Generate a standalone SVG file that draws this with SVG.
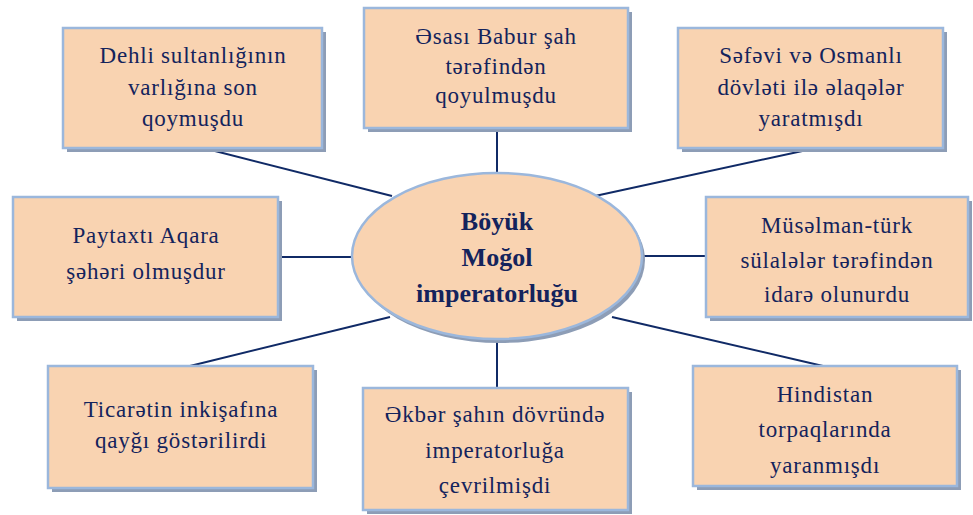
<svg xmlns="http://www.w3.org/2000/svg" width="973" height="515" viewBox="0 0 973 515">
<style>
.box{fill:#f9d3b1;stroke:#9bb7dc;stroke-width:2.5}
.sh{fill:#8d9db6}
.t{fill:#14235c;text-anchor:middle}
.ln{stroke:#102a66;stroke-width:2;fill:none}
</style>
<rect width="973" height="515" fill="#ffffff"/>
<g id="connectors">
<line class="ln" x1="211" y1="150" x2="392" y2="196"/>
<line class="ln" x1="497" y1="129" x2="497" y2="174"/>
<line class="ln" x1="807" y1="150" x2="595" y2="196"/>
<line class="ln" x1="279" y1="257" x2="352" y2="257"/>
<line class="ln" x1="641" y1="256" x2="706" y2="256"/>
<line class="ln" x1="190" y1="366" x2="390" y2="317"/>
<line class="ln" x1="497" y1="339" x2="497" y2="388"/>
<line class="ln" x1="612" y1="317" x2="823" y2="366"/>
</g>
<g id="center">
<ellipse cx="500" cy="260" rx="145" ry="83" class="sh"/>
<ellipse cx="497" cy="256" rx="145" ry="83" class="box"/>
<text class="t" font-family="Liberation Serif" font-size="26" font-weight="bold" x="497" y="230">Böyük</text>
<text class="t" font-family="Liberation Serif" font-size="26" font-weight="bold" x="497" y="266">Moğol</text>
<text class="t" font-family="Liberation Serif" font-size="26" font-weight="bold" x="497" y="302">imperatorluğu</text>
</g>
<g id="n1">
<rect x="67" y="32" width="259" height="120" class="sh"/>
<rect x="63" y="28" width="259" height="120" class="box"/>
<text class="t" font-family="Liberation Serif, DejaVu Serif, serif" font-size="23" letter-spacing="0.8" x="193" y="63">Dehli sultanlığının</text>
<text class="t" font-family="Liberation Serif, DejaVu Serif, serif" font-size="23" letter-spacing="0.8" x="193" y="95">varlığına son</text>
<text class="t" font-family="Liberation Serif, DejaVu Serif, serif" font-size="23" letter-spacing="0.8" x="193" y="126">qoymuşdu</text>
</g>
<g id="n2">
<rect x="368" y="12" width="264" height="120" class="sh"/>
<rect x="364" y="8" width="264" height="120" class="box"/>
<text class="t" font-family="Liberation Serif, DejaVu Serif, serif" font-size="23" letter-spacing="0.8" x="496" y="44">Əsası Babur şah</text>
<text class="t" font-family="Liberation Serif, DejaVu Serif, serif" font-size="23" letter-spacing="0.8" x="496" y="74">tərəfindən</text>
<text class="t" font-family="Liberation Serif, DejaVu Serif, serif" font-size="23" letter-spacing="0.8" x="496" y="103">qoyulmuşdu</text>
</g>
<g id="n3">
<rect x="682" y="32" width="265" height="120" class="sh"/>
<rect x="678" y="28" width="265" height="120" class="box"/>
<text class="t" font-family="Liberation Serif, DejaVu Serif, serif" font-size="23" letter-spacing="0.8" x="811" y="63">Səfəvi və Osmanlı</text>
<text class="t" font-family="Liberation Serif, DejaVu Serif, serif" font-size="23" letter-spacing="0.8" x="811" y="95">dövləti ilə əlaqələr</text>
<text class="t" font-family="Liberation Serif, DejaVu Serif, serif" font-size="23" letter-spacing="0.8" x="811" y="126">yaratmışdı</text>
</g>
<g id="n4">
<rect x="17" y="201" width="265" height="120" class="sh"/>
<rect x="13" y="197" width="265" height="120" class="box"/>
<text class="t" font-family="Liberation Serif, DejaVu Serif, serif" font-size="23" letter-spacing="0.8" x="146" y="243">Paytaxtı Aqara</text>
<text class="t" font-family="Liberation Serif, DejaVu Serif, serif" font-size="23" letter-spacing="0.8" x="146" y="279">şəhəri olmuşdur</text>
</g>
<g id="n5">
<rect x="710" y="201" width="262" height="120" class="sh"/>
<rect x="706" y="197" width="262" height="120" class="box"/>
<text class="t" font-family="Liberation Serif, DejaVu Serif, serif" font-size="23" letter-spacing="0.8" x="837" y="233">Müsəlman-türk</text>
<text class="t" font-family="Liberation Serif, DejaVu Serif, serif" font-size="23" letter-spacing="0.8" x="837" y="268">sülalələr tərəfindən</text>
<text class="t" font-family="Liberation Serif, DejaVu Serif, serif" font-size="23" letter-spacing="0.8" x="837" y="302">idarə olunurdu</text>
</g>
<g id="n6">
<rect x="52" y="370" width="265" height="122" class="sh"/>
<rect x="48" y="366" width="265" height="122" class="box"/>
<text class="t" font-family="Liberation Serif, DejaVu Serif, serif" font-size="23" letter-spacing="0.8" x="181" y="417">Ticarətin inkişafına</text>
<text class="t" font-family="Liberation Serif, DejaVu Serif, serif" font-size="23" letter-spacing="0.8" x="181" y="448">qayğı göstərilirdi</text>
</g>
<g id="n7">
<rect x="367" y="392" width="265" height="122" class="sh"/>
<rect x="363" y="388" width="265" height="122" class="box"/>
<text class="t" font-family="Liberation Serif, DejaVu Serif, serif" font-size="23" letter-spacing="0.8" x="495" y="422">Əkbər şahın dövründə</text>
<text class="t" font-family="Liberation Serif, DejaVu Serif, serif" font-size="23" letter-spacing="0.8" x="495" y="458">imperatorluğa</text>
<text class="t" font-family="Liberation Serif, DejaVu Serif, serif" font-size="23" letter-spacing="0.8" x="495" y="493">çevrilmişdi</text>
</g>
<g id="n8">
<rect x="697" y="370" width="264" height="120" class="sh"/>
<rect x="693" y="366" width="264" height="120" class="box"/>
<text class="t" font-family="Liberation Serif, DejaVu Serif, serif" font-size="23" letter-spacing="0.8" x="825" y="402">Hindistan</text>
<text class="t" font-family="Liberation Serif, DejaVu Serif, serif" font-size="23" letter-spacing="0.8" x="825" y="437">torpaqlarında</text>
<text class="t" font-family="Liberation Serif, DejaVu Serif, serif" font-size="23" letter-spacing="0.8" x="825" y="473">yaranmışdı</text>
</g>
</svg>
